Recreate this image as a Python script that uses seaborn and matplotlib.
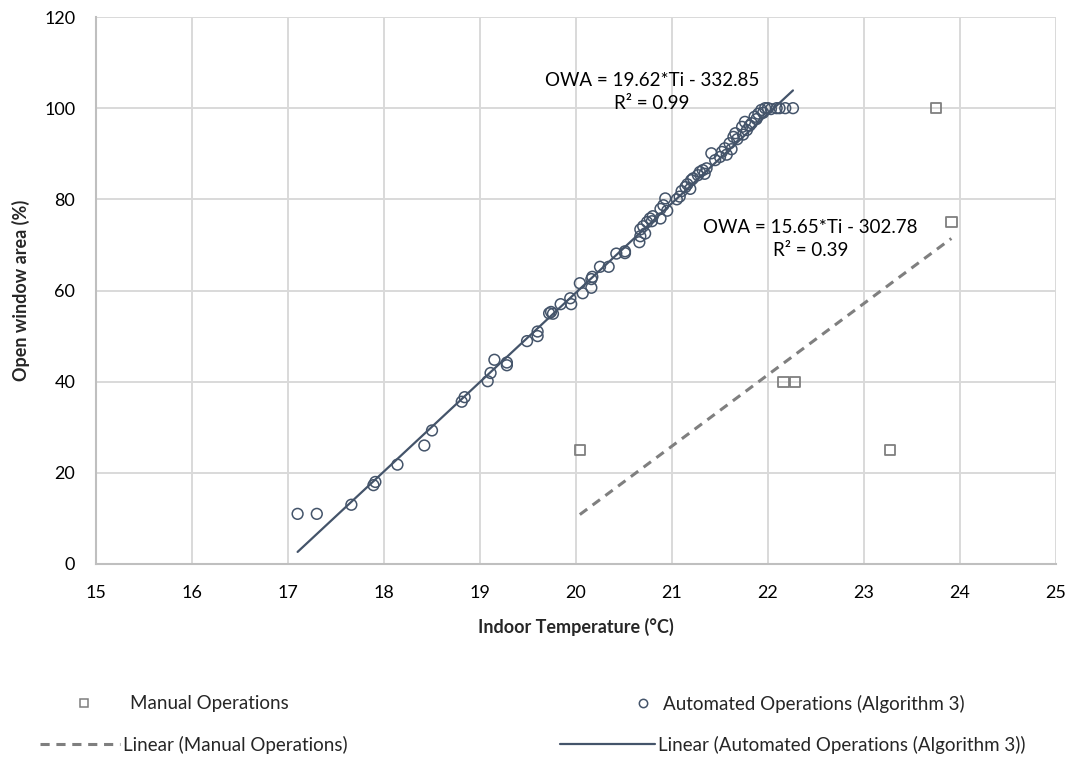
import numpy as np
import pandas as pd
import matplotlib
matplotlib.use("Agg")
import matplotlib.pyplot as plt
from matplotlib.lines import Line2D
import seaborn as sns

# Manual operations (squares)
manual_temp = [20.04, 22.16, 22.28, 23.27, 23.75, 23.91]
manual_owa = [25, 40, 40, 25, 100, 75]

# Automated operations, Algorithm 3 (circles)
auto_temp = [17.10, 17.30, 17.66, 17.89, 17.91, 18.14, 18.42, 18.50, 18.81, 18.84,
             19.08, 19.11, 19.15, 19.28, 19.28, 19.49, 19.60, 19.60, 19.72, 19.74,
             19.76, 19.84, 19.94, 19.95, 20.04, 20.07, 20.16, 20.16, 20.17, 20.25,
             20.34, 20.42, 20.51, 20.51, 20.66, 20.67, 20.67, 20.70, 20.72, 20.74,
             20.77, 20.79, 20.80, 20.88, 20.88, 20.91, 20.93, 20.95, 21.05, 21.08,
             21.10, 21.14, 21.16, 21.19, 21.20, 21.22, 21.27, 21.29, 21.32, 21.34,
             21.36, 21.41, 21.45, 21.50, 21.52, 21.55, 21.57, 21.60, 21.62, 21.64,
             21.66, 21.68, 21.73, 21.74, 21.76, 21.78, 21.81, 21.83, 21.86, 21.88,
             21.90, 21.93, 21.95, 21.97, 22.00, 22.03, 22.09, 22.12, 22.18, 22.26]
auto_owa = [11.0, 11.0, 13.0, 17.3, 18.0, 21.8, 26.0, 29.3, 35.6, 36.6,
            40.1, 41.9, 44.8, 43.6, 44.2, 48.9, 50.0, 51.0, 55.0, 55.3,
            54.9, 57.0, 58.3, 57.0, 61.6, 59.4, 60.6, 62.5, 63.0, 65.2,
            65.2, 68.1, 68.2, 68.6, 70.6, 71.9, 73.4, 74.1, 72.5, 75.0,
            75.8, 75.2, 76.3, 75.8, 77.9, 78.7, 80.2, 77.5, 80.0, 80.6,
            81.8, 82.7, 83.3, 82.3, 84.2, 84.6, 85.3, 86.0, 86.4, 85.6,
            86.8, 90.1, 88.6, 89.3, 90.4, 91.2, 89.8, 92.3, 91.0, 93.7,
            94.5, 93.2, 95.9, 94.2, 97.0, 95.2, 96.2, 96.7, 98.1, 97.6,
            98.8, 99.6, 99.0, 100, 100, 99.8, 100, 100, 100, 100]

# trendline coefficients as printed on the chart (slope, intercept)
manual_coef = [15.65, -302.78]
auto_coef = [19.62, -332.85]

manual_label = "Manual Operations"
auto_label = "Automated Operations (Algorithm 3)"
manual_eq = "OWA = 15.65*Ti - 302.78\nR² = 0.39"
auto_eq = "OWA = 19.62*Ti - 332.85\nR² = 0.99"

x_ticks = list(range(15, 26))
y_ticks = list(range(0, 121, 20))

df_manual = pd.DataFrame({"temp": manual_temp, "owa": manual_owa})
df_auto = pd.DataFrame({"temp": auto_temp, "owa": auto_owa})


def trend(df, coef):
    t = np.array([df["temp"].min(), df["temp"].max()])
    return pd.DataFrame({"temp": t, "owa": np.polyval(coef, t)})


sns.set_style("white")
plt.rcParams["font.family"] = ["Lato", "DejaVu Sans"]

blue = "#44546a"
grey = "#7f7f7f"
fs = 13.5

fig = plt.figure(figsize=(10.73, 7.63), dpi=100)
ax = fig.add_axes([96 / 1073, 1 - 564 / 763, 960 / 1073, 547 / 763])

# points
sns.scatterplot(data=df_manual, x="temp", y="owa", marker="s", s=55,
                facecolor="none", edgecolor=grey, linewidth=1.3, ax=ax, zorder=4)
sns.scatterplot(data=df_auto, x="temp", y="owa", marker="o", s=60,
                facecolor="none", edgecolor=blue, linewidth=1.1, ax=ax, zorder=4)

# trendlines
sns.lineplot(data=trend(df_manual, manual_coef), x="temp", y="owa", ax=ax,
             color=grey, lw=2.2, ls=(0, (3, 2.2)))
sns.lineplot(data=trend(df_auto, auto_coef), x="temp", y="owa", ax=ax,
             color=blue, lw=1.6)

ax.text(20.79, 103.6, auto_eq, ha="center", va="center", fontsize=fs,
        linespacing=1.45, color="black")
ax.text(22.44, 71.3, manual_eq, ha="center", va="center", fontsize=fs,
        linespacing=1.45, color="black")

ax.set_xlim(15, 25)
ax.set_ylim(0, 120)
ax.set_xticks(x_ticks)
ax.set_yticks(y_ticks)
ax.grid(True, color="#d9d9d9", lw=1.4)
ax.set_axisbelow(True)
for side in ["top", "right"]:
    ax.spines[side].set_visible(False)
for side in ["left", "bottom"]:
    ax.spines[side].set_color("#bfbfbf")
    ax.spines[side].set_linewidth(1.5)
ax.tick_params(length=0, labelsize=13, pad=15, colors="black")
ax.set_xlabel("Indoor Temperature (°C)", fontsize=13, fontweight="bold", labelpad=12)
ax.set_ylabel("Open window area (%)", fontsize=13, fontweight="bold", labelpad=10)

# legend: one entry per box so each key sits where the reference has it
px = fs * 100 / 72
W, H = 1073, 763
entries = [
    (Line2D([], [], ls="none", marker="s", ms=6, mfc="none", mec=grey, mew=1.1),
     manual_label, 64, 40, 26, 704),
    (Line2D([], [], ls="none", marker="o", ms=6, mfc="none", mec=blue, mew=1.1),
     auto_label, 633, 20, 10, 704),
    (Line2D([], [], color=grey, lw=2.2, ls=(0, (3, 2.2))),
     "Linear (" + manual_label + ")", 40, 80, 3, 745),
    (Line2D([], [], color=blue, lw=1.6),
     "Linear (" + auto_label + ")", 560, 95, 3, 745),
]
for h, lab, x0, hl, pad, yc in entries:
    fig.legend([h], [lab], loc="center left", bbox_to_anchor=(x0 / W, 1 - yc / H),
               frameon=False, fontsize=fs, borderpad=0, borderaxespad=0,
               handlelength=hl / px, handletextpad=pad / px, numpoints=1)

fig.savefig("out.png", dpi=100)
